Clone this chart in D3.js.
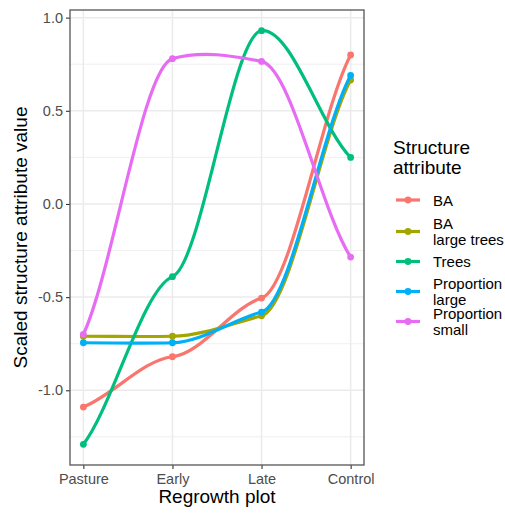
<!DOCTYPE html>
<html>
<head>
<meta charset="utf-8">
<script src="https://cdn.jsdelivr.net/npm/d3@7"></script>
<style>
  body { margin: 0; background: #fff; }
  text { font-family: "Liberation Sans", Arial, sans-serif; }
</style>
</head>
<body>
<svg id="chart" width="505" height="514"></svg>
<script>
// plot categories along x
const plots = ["Pasture", "Early", "Late", "Control"];

// scaled attribute values per series
const baValues = [-1.09, -0.82, -0.505, 0.80];
const baLargeValues = [-0.71, -0.71, -0.60, 0.665];
const treesValues = [-1.29, -0.39, 0.93, 0.25];
const propLargeValues = [-0.745, -0.745, -0.58, 0.69];
const propSmallValues = [-0.70, 0.78, 0.765, -0.285];

const seriesNames = ["BA", "BA\nlarge trees", "Trees", "Proportion\nlarge", "Proportion\nsmall"];
const seriesColors = ["#F8766D", "#A3A500", "#00BF7D", "#00B0F6", "#E76BF3"];
const yTicks = [-1.0, -0.5, 0.0, 0.5, 1.0];
const yMinor = [-1.25, -0.75, -0.25, 0.25, 0.75];

const series = [baValues, baLargeValues, treesValues, propLargeValues, propSmallValues]
    .map((vals, i) => ({
        name: seriesNames[i],
        color: seriesColors[i],
        points: vals.map((v, j) => ({ key: plots[j], value: v }))
    }));

// hermite curve with damped tangents (shoulders at inner points)
function curveShoulder(inner, ends) {
    return context => ({
        areaStart() {}, areaEnd() {},
        lineStart() { this._pts = []; },
        point(x, y) { this._pts.push([+x, +y]); },
        lineEnd() {
            let p = this._pts, n = p.length;
            if (!n) return;
            let sec = d3.range(n - 1).map(i => (p[i + 1][1] - p[i][1]) / (p[i + 1][0] - p[i][0]));
            let m = p.map((_, i) => {
                if (i === 0) return ends * sec[0];
                if (i === n - 1) return ends * sec[n - 2];
                return inner * (p[i + 1][1] - p[i - 1][1]) / (p[i + 1][0] - p[i - 1][0]);
            });
            context.moveTo(p[0][0], p[0][1]);
            for (let i = 0; i < n - 1; i++) {
                let dx = (p[i + 1][0] - p[i][0]) / 3;
                context.bezierCurveTo(
                    p[i][0] + dx, p[i][1] + m[i] * dx,
                    p[i + 1][0] - dx, p[i + 1][1] - m[i + 1] * dx,
                    p[i + 1][0], p[i + 1][1]);
            }
        }
    });
}

const panel = { left: 70, right: 364, top: 10, bottom: 465 };

const svg = d3.select("#chart");

let scale = {
    x: d3.scalePoint().domain(plots).range([panel.left, panel.right]).padding(0.15),
    y: d3.scaleLinear().domain([-1.401, 1.041]).range([panel.bottom, panel.top])
};

// grid
let grid = svg.append("g").attr("class", "grid");
grid.selectAll("line.minor")
    .data(yMinor)
    .join("line")
    .attr("x1", panel.left).attr("x2", panel.right)
    .attr("y1", d => scale.y(d)).attr("y2", d => scale.y(d))
    .attr("stroke", "#ebebeb").attr("stroke-width", 0.8);
grid.selectAll("line.majorY")
    .data(yTicks)
    .join("line")
    .attr("x1", panel.left).attr("x2", panel.right)
    .attr("y1", d => scale.y(d)).attr("y2", d => scale.y(d))
    .attr("stroke", "#ebebeb").attr("stroke-width", 1.5);
grid.selectAll("line.majorX")
    .data(plots)
    .join("line")
    .attr("x1", d => scale.x(d)).attr("x2", d => scale.x(d))
    .attr("y1", panel.top).attr("y2", panel.bottom)
    .attr("stroke", "#ebebeb").attr("stroke-width", 1.5);

// axes
let xAxis = svg.append("g")
    .attr("transform", `translate(0, ${panel.bottom})`)
    .call(d3.axisBottom(scale.x).tickSize(4).tickPadding(5));
let yAxis = svg.append("g")
    .attr("transform", `translate(${panel.left}, 0)`)
    .call(d3.axisLeft(scale.y).tickValues(yTicks).tickFormat(d3.format(".1f")).tickSize(4).tickPadding(3));

[xAxis, yAxis].forEach(a => {
    a.select(".domain").remove();
    a.selectAll(".tick line").attr("stroke", "#333").attr("stroke-width", 1.1);
    a.selectAll(".tick text")
        .attr("fill", "#4d4d4d")
        .style("font-size", "14.5px")
        .style("font-family", "'Liberation Sans', Arial, sans-serif");
});
yAxis.selectAll(".tick text").text(d => d3.format(".1f")(d).replace("−", "-"));

// lines
let line = d3.line()
    .curve(curveShoulder(0.18, 0.7))
    .x(d => scale.x(d.key))
    .y(d => scale.y(d.value));

let chart = svg.append("g").attr("class", "chart");
series.forEach(s => {
    chart.append("path")
        .datum(s.points)
        .attr("d", line)
        .attr("fill", "none")
        .attr("stroke", s.color)
        .attr("stroke-width", 3.2);
    chart.selectAll(null)
        .data(s.points)
        .join("circle")
        .attr("cx", d => scale.x(d.key))
        .attr("cy", d => scale.y(d.value))
        .attr("r", 3.4)
        .attr("fill", s.color);
});

// panel border
svg.append("rect")
    .attr("x", panel.left).attr("y", panel.top)
    .attr("width", panel.right - panel.left)
    .attr("height", panel.bottom - panel.top)
    .attr("fill", "none")
    .attr("stroke", "#555")
    .attr("stroke-width", 1.3);

// axis titles
svg.append("text")
    .attr("x", (panel.left + panel.right) / 2)
    .attr("y", 503)
    .attr("text-anchor", "middle")
    .style("font-size", "19px")
    .text("Regrowth plot");
svg.append("text")
    .attr("transform", `translate(27, ${(panel.top + panel.bottom) / 2}) rotate(-90)`)
    .attr("text-anchor", "middle")
    .style("font-size", "19px")
    .text("Scaled structure attribute value");

// legend
let legend = svg.append("g").attr("class", "legend");
legend.append("text")
    .attr("x", 393).attr("y", 154)
    .style("font-size", "19px")
    .text("Structure");
legend.append("text")
    .attr("x", 393).attr("y", 174)
    .style("font-size", "19px")
    .text("attribute");

const keyY = [200, 231.5, 261.5, 291.5, 321.5];
series.forEach((s, i) => {
    let g = legend.append("g").attr("transform", `translate(0, ${keyY[i]})`);
    g.append("line")
        .attr("x1", 396).attr("x2", 420)
        .attr("stroke", s.color).attr("stroke-width", 3.2);
    g.append("circle")
        .attr("cx", 408).attr("r", 3.4)
        .attr("fill", s.color);
    let parts = s.name.split("\n");
    let t = g.append("text")
        .attr("x", 433)
        .style("font-size", "15px");
    parts.forEach((p, k) => {
        t.append("tspan")
            .attr("x", 433)
            .attr("y", (k - (parts.length - 1) / 2) * 15.5 + 5.5)
            .text(p);
    });
});
</script>
</body>
</html>
